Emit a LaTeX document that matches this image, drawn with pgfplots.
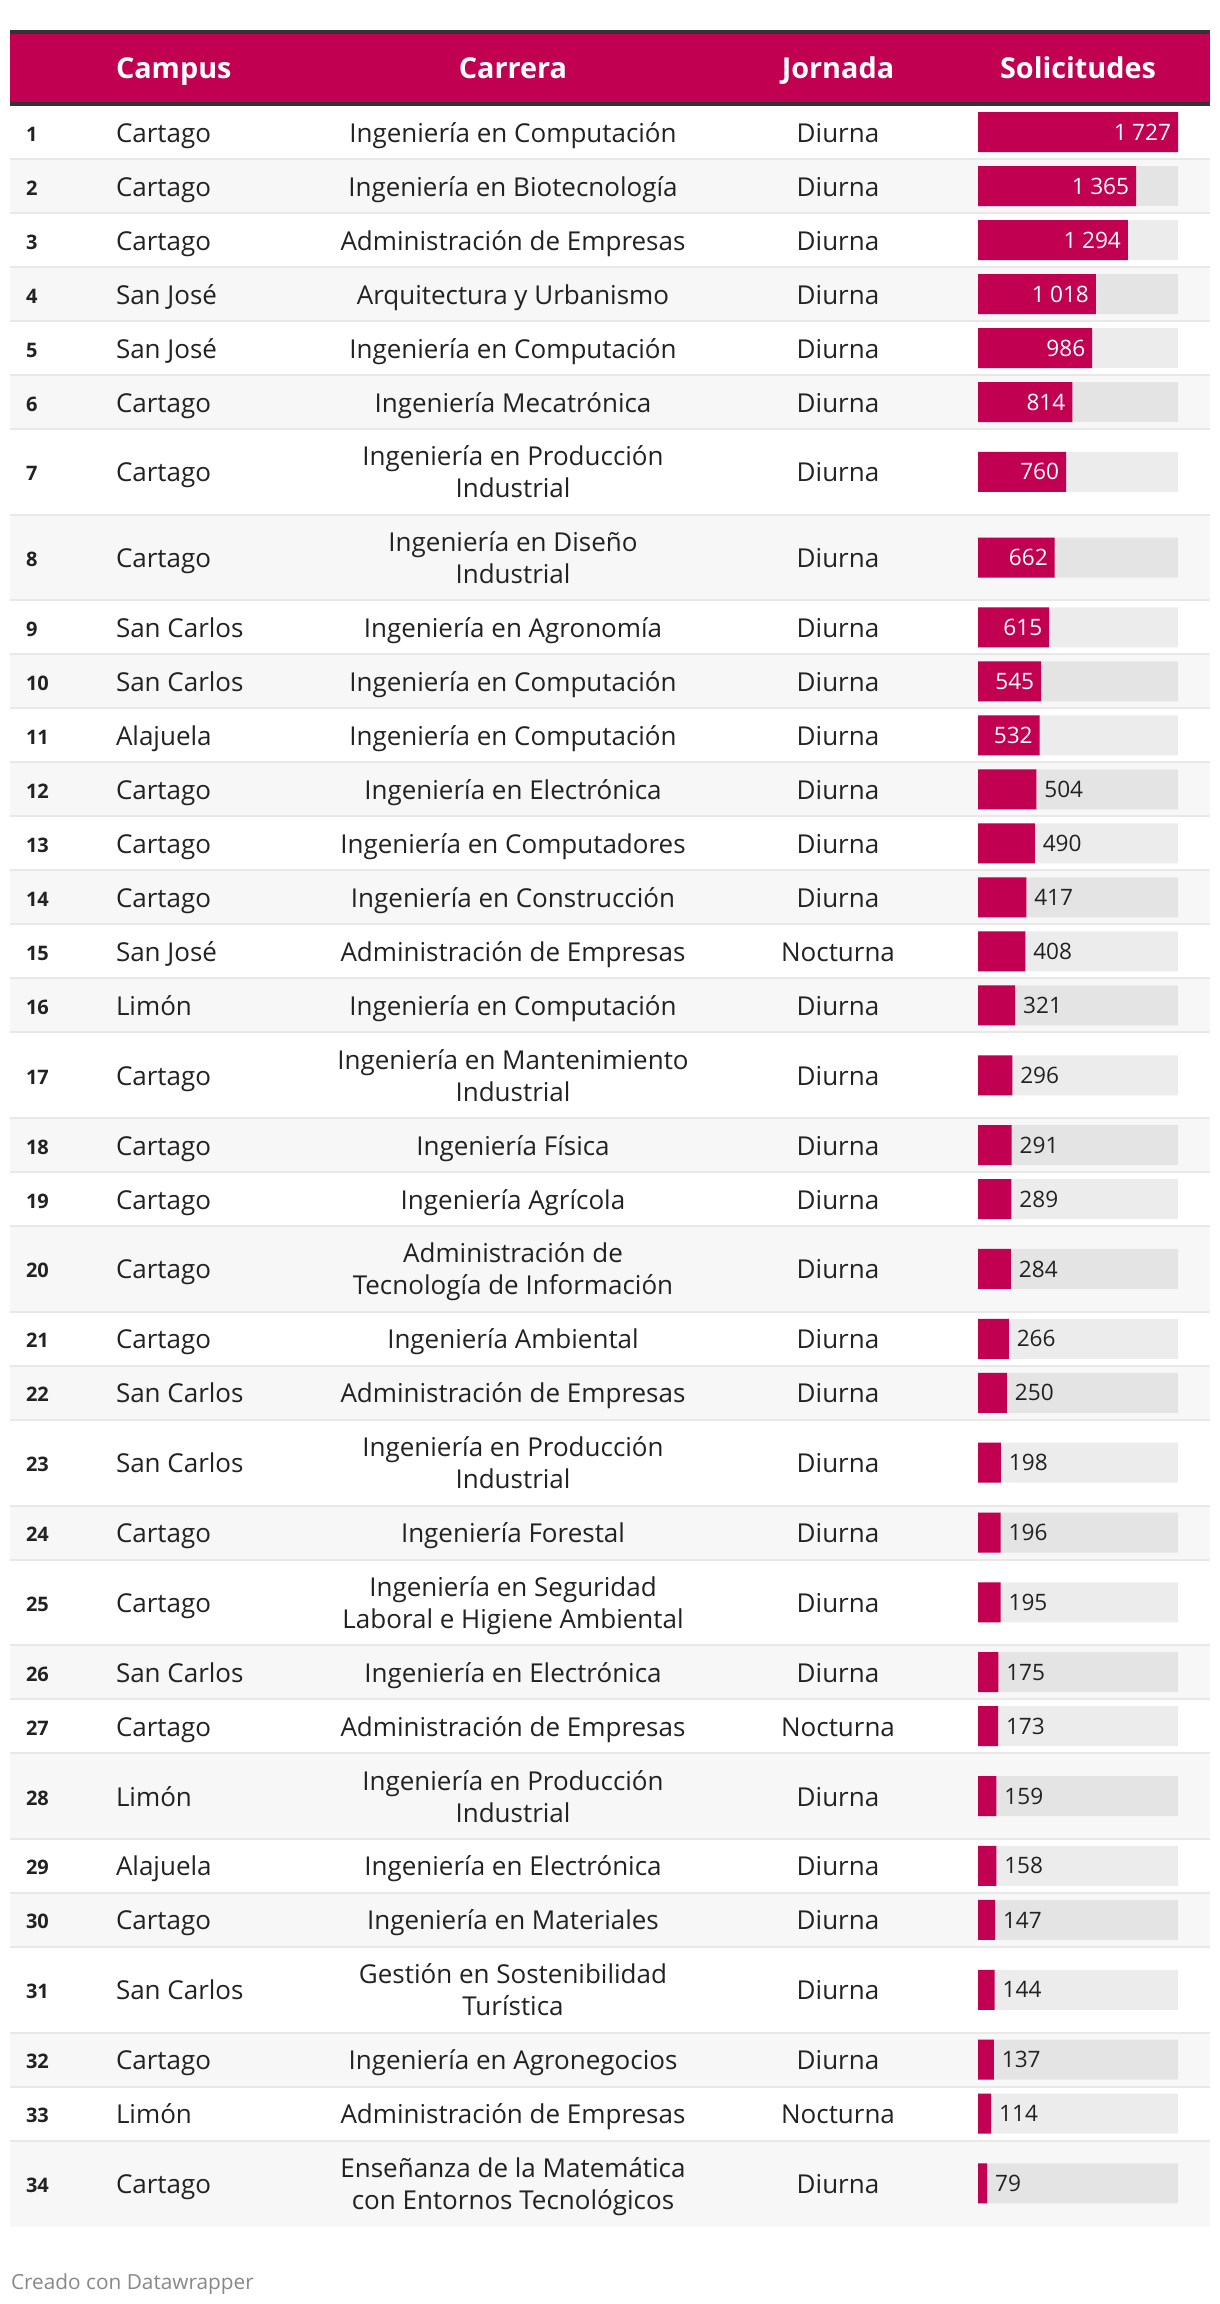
\documentclass[border=0pt]{standalone}
\usepackage{pgfplots}
\pgfplotsset{compat=1.18}
\usepackage{fontspec}
\setmainfont{Open Sans}
\definecolor{pinkc}{HTML}{C20052}
\definecolor{darkc}{HTML}{333333}
\definecolor{txt}{HTML}{222222}
\definecolor{rowbg}{HTML}{F7F7F7}
\definecolor{sepc}{HTML}{E8E8E8}
\definecolor{foot}{HTML}{888888}
\newcommand\bodyf{\fontsize{13}{15}\selectfont}
\newcommand\hdrf{\fontsize{14.4}{17}\selectfont\bfseries}
\newcommand\rankf{\fontsize{10}{12}\selectfont\bfseries}
\newcommand\valf{\fontsize{11.3}{13}\selectfont}
\newcommand\footf{\fontsize{10.4}{12}\selectfont}
\newcommand\rowS[5]{%
 \node[anchor=base west,font=\rankf] at (axis cs:26,#2+9) {#1};
 \node[anchor=base west] at (axis cs:116,#2+10) {#3};
 \node[anchor=base] at (axis cs:513,#2+10) {#4};
 \node[anchor=base] at (axis cs:838,#2+10) {#5};}
\newcommand\rowD[6]{%
 \node[anchor=base west,font=\rankf] at (axis cs:26,#2+9) {#1};
 \node[anchor=base west] at (axis cs:116,#2+10) {#3};
 \node[anchor=base] at (axis cs:513,#2-6) {#4};
 \node[anchor=base] at (axis cs:513,#2+26) {#5};
 \node[anchor=base] at (axis cs:838,#2+10) {#6};}
\newcommand\bg[2]{\fill[rowbg] (axis cs:10,#1) rectangle (axis cs:1210,#2);}
\newcommand\sepl[1]{\fill[sepc] (axis cs:10,#1-2) rectangle (axis cs:1210,#1);}
\begin{document}
\begin{tikzpicture}[every node/.style={inner sep=0pt, outer sep=0pt, text=txt, font=\bodyf}]
\begin{axis}[at={(0,0)}, anchor=south west, scale only axis, width=610pt, height=1152pt,
  xmin=0, xmax=1220, ymin=0, ymax=2304, y dir=reverse, hide axis, clip=false]
\path (axis cs:0,0) rectangle (axis cs:1220,2304);
% header
\fill[darkc] (axis cs:10,30) rectangle (axis cs:1210,106);
\fill[pinkc] (axis cs:10,34) rectangle (axis cs:1210,102);
\node[anchor=base west, text=white, font=\hdrf] at (axis cs:116,78) {Campus};
\node[anchor=base, text=white, font=\hdrf] at (axis cs:513,78) {Carrera};
\node[anchor=base, text=white, font=\hdrf] at (axis cs:838,78) {Jornada};
\node[anchor=base, text=white, font=\hdrf] at (axis cs:1078,78) {Solicitudes};
% row backgrounds
\bg{160}{214}\bg{268}{322}\bg{376}{430}\bg{515.7}{601.4}\bg{655.4}{709.4}
\bg{763.4}{817.4}\bg{871.4}{925.4}\bg{979.4}{1033.4}\bg{1119.1}{1173.1}
\bg{1227.1}{1312.8}\bg{1366.8}{1420.8}\bg{1506.5}{1560.5}\bg{1646.2}{1700.2}
\bg{1754.2}{1839.9}\bg{1893.9}{1947.9}\bg{2033.6}{2087.6}\bg{2141.6}{2227.3}
% separators
\sepl{160}\sepl{214}\sepl{268}\sepl{322}\sepl{376}\sepl{430}\sepl{515.7}\sepl{601.4}
\sepl{655.4}\sepl{709.4}\sepl{763.4}\sepl{817.4}\sepl{871.4}\sepl{925.4}\sepl{979.4}
\sepl{1033.4}\sepl{1119.1}\sepl{1173.1}\sepl{1227.1}\sepl{1312.8}\sepl{1366.8}
\sepl{1420.8}\sepl{1506.5}\sepl{1560.5}\sepl{1646.2}\sepl{1700.2}\sepl{1754.2}
\sepl{1839.9}\sepl{1893.9}\sepl{1947.9}\sepl{2033.6}\sepl{2087.6}\sepl{2141.6}
% rows
\rowS{1}{132}{Cartago}{Ingeniería en Computación}{Diurna}
\rowS{2}{186}{Cartago}{Ingeniería en Biotecnología}{Diurna}
\rowS{3}{240}{Cartago}{Administración de Empresas}{Diurna}
\rowS{4}{294}{San José}{Arquitectura y Urbanismo}{Diurna}
\rowS{5}{348}{San José}{Ingeniería en Computación}{Diurna}
\rowS{6}{402}{Cartago}{Ingeniería Mecatrónica}{Diurna}
\rowD{7}{471.85}{Cartago}{Ingeniería en Producción}{Industrial}{Diurna}
\rowD{8}{557.55}{Cartago}{Ingeniería en Diseño}{Industrial}{Diurna}
\rowS{9}{627.4}{San Carlos}{Ingeniería en Agronomía}{Diurna}
\rowS{10}{681.4}{San Carlos}{Ingeniería en Computación}{Diurna}
\rowS{11}{735.4}{Alajuela}{Ingeniería en Computación}{Diurna}
\rowS{12}{789.4}{Cartago}{Ingeniería en Electrónica}{Diurna}
\rowS{13}{843.4}{Cartago}{Ingeniería en Computadores}{Diurna}
\rowS{14}{897.4}{Cartago}{Ingeniería en Construcción}{Diurna}
\rowS{15}{951.4}{San José}{Administración de Empresas}{Nocturna}
\rowS{16}{1005.4}{Limón}{Ingeniería en Computación}{Diurna}
\rowD{17}{1075.25}{Cartago}{Ingeniería en Mantenimiento}{Industrial}{Diurna}
\rowS{18}{1145.1}{Cartago}{Ingeniería Física}{Diurna}
\rowS{19}{1199.1}{Cartago}{Ingeniería Agrícola}{Diurna}
\rowD{20}{1268.95}{Cartago}{Administración de}{Tecnología de Información}{Diurna}
\rowS{21}{1338.8}{Cartago}{Ingeniería Ambiental}{Diurna}
\rowS{22}{1392.8}{San Carlos}{Administración de Empresas}{Diurna}
\rowD{23}{1462.65}{San Carlos}{Ingeniería en Producción}{Industrial}{Diurna}
\rowS{24}{1532.5}{Cartago}{Ingeniería Forestal}{Diurna}
\rowD{25}{1602.35}{Cartago}{Ingeniería en Seguridad}{Laboral e Higiene Ambiental}{Diurna}
\rowS{26}{1672.2}{San Carlos}{Ingeniería en Electrónica}{Diurna}
\rowS{27}{1726.2}{Cartago}{Administración de Empresas}{Nocturna}
\rowD{28}{1796.05}{Limón}{Ingeniería en Producción}{Industrial}{Diurna}
\rowS{29}{1865.9}{Alajuela}{Ingeniería en Electrónica}{Diurna}
\rowS{30}{1919.9}{Cartago}{Ingeniería en Materiales}{Diurna}
\rowD{31}{1989.75}{San Carlos}{Gestión en Sostenibilidad}{Turística}{Diurna}
\rowS{32}{2059.6}{Cartago}{Ingeniería en Agronegocios}{Diurna}
\rowS{33}{2113.6}{Limón}{Administración de Empresas}{Nocturna}
\rowD{34}{2183.45}{Cartago}{Enseñanza de la Matemática}{con Entornos Tecnológicos}{Diurna}
\node[anchor=base west, text=foot, font=\footf] at (axis cs:11,2289) {Creado con Datawrapper};
\end{axis}
\begin{axis}[at={(489pt,0)}, anchor=south west, scale only axis, width=100pt, height=1152pt,
  xmin=0, xmax=1727, ymin=0, ymax=2304, y dir=reverse, hide axis, clip=false,
  xbar, bar width=40,
  /pgf/number format/.cd, fixed, precision=0, 1000 sep={\hspace{0.24em}}, assume math mode=true]
\addplot[xbar, bar shift=0pt, draw=none, fill=black, fill opacity=0.075] coordinates {
(1727,132) (1727,186) (1727,240) (1727,294) (1727,348) (1727,402) (1727,471.85)
(1727,557.55) (1727,627.4) (1727,681.4) (1727,735.4) (1727,789.4) (1727,843.4)
(1727,897.4) (1727,951.4) (1727,1005.4) (1727,1075.25) (1727,1145.1) (1727,1199.1)
(1727,1268.95) (1727,1338.8) (1727,1392.8) (1727,1462.65) (1727,1532.5) (1727,1602.35)
(1727,1672.2) (1727,1726.2) (1727,1796.05) (1727,1865.9) (1727,1919.9) (1727,1989.75)
(1727,2059.6) (1727,2113.6) (1727,2183.45)};
\addplot[xbar, bar shift=0pt, draw=none, fill=pinkc, nodes near coords,
  every node near coord/.append style={anchor=east, xshift=-3.5pt, text=white, font=\valf, inner sep=0pt}] coordinates {
(1727,132) (1365,186) (1294,240) (1018,294) (986,348) (814,402) (760,471.85)
(662,557.55) (615,627.4) (545,681.4) (532,735.4)};
\addplot[xbar, bar shift=0pt, draw=none, fill=pinkc, nodes near coords,
  every node near coord/.append style={anchor=west, xshift=4pt, text=txt, font=\valf, inner sep=0pt}] coordinates {
(504,789.4) (490,843.4) (417,897.4) (408,951.4) (321,1005.4) (296,1075.25) (291,1145.1)
(289,1199.1) (284,1268.95) (266,1338.8) (250,1392.8) (198,1462.65) (196,1532.5)
(195,1602.35) (175,1672.2) (173,1726.2) (159,1796.05) (158,1865.9) (147,1919.9)
(144,1989.75) (137,2059.6) (114,2113.6) (79,2183.45)};
\end{axis}
\end{tikzpicture}
\end{document}
